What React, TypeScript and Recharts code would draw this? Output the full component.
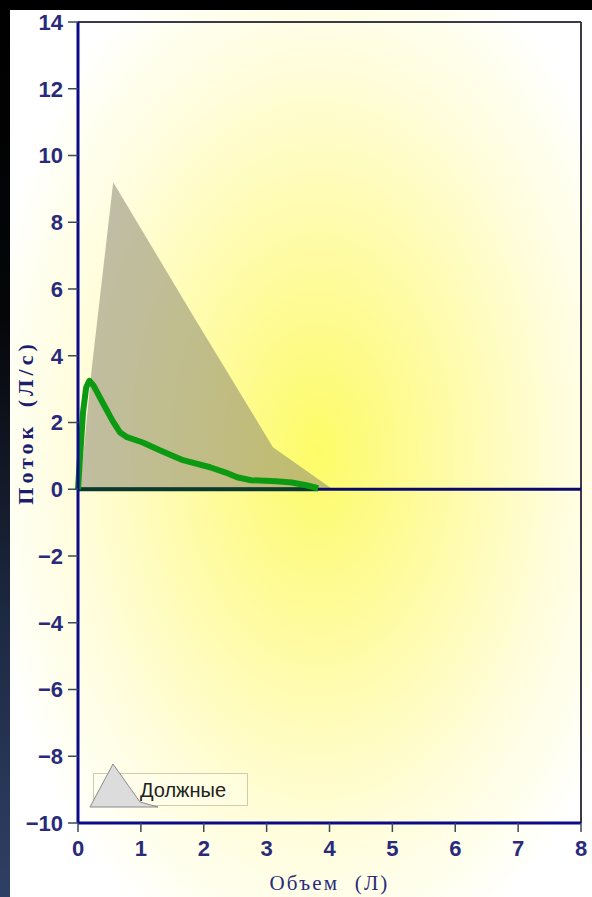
import React from "react";
import { ComposedChart, Area, Line, XAxis, YAxis, ReferenceLine } from "recharts";

// Predicted (Должные) curve
const predVol = [0.03, 0.22, 0.56, 1.83, 3.1, 4.05];
const predFlow = [0, 3.65, 9.2, 5.2, 1.26, 0];

// Measured expiratory curve
const actVol = [0, 0.03, 0.08, 0.13, 0.18, 0.25, 0.4, 0.55, 0.67, 0.78, 1.03, 1.3, 1.67, 2.1, 2.35, 2.53, 2.75, 3.15, 3.4, 3.63, 3.82];
const actFlow = [0, 0.9, 2.3, 3.05, 3.25, 3.1, 2.57, 2.05, 1.7, 1.56, 1.4, 1.17, 0.87, 0.66, 0.5, 0.36, 0.27, 0.24, 0.2, 0.12, 0.03];

// Return line along zero
const inspVol = [0, 3.82];
const inspFlow = [0, 0];

const xTicks = [0, 1, 2, 3, 4, 5, 6, 7, 8];
const yTicks = [-10, -8, -6, -4, -2, 0, 2, 4, 6, 8, 10, 12, 14];

const xLabel = "Объем (Л)";
const yLabel = "Поток (Л/с)";
const legendLabel = "Должные";

type Row = { vol: number; pred?: number; flow?: number; insp?: number };
const buildData = (): Row[] => {
  const map = new Map<number, Row>();
  const put = (v: number, key: "pred" | "flow" | "insp", val: number) => {
    const r = map.get(v) || { vol: v };
    r[key] = val;
    map.set(v, r);
  };
  predVol.forEach((v, i) => put(v, "pred", predFlow[i]));
  actVol.forEach((v, i) => put(v, "flow", actFlow[i]));
  inspVol.forEach((v, i) => put(v, "insp", inspFlow[i]));
  return Array.from(map.values()).sort((a, b) => a.vol - b.vol);
};
const data = buildData();

const tickFont = { fontFamily: "'Liberation Sans', Arial, sans-serif", fontSize: 22, fontWeight: 700, fill: "#2a2a7c" };

export default function App() {
  return (
    <div style={{ position: "absolute", left: 0, top: 0, width: 592, height: 897, overflow: "hidden",
      background: "radial-gradient(ellipse 340px 540px at 318px 450px, #fdfc66 0%, #fefb8c 22%, #fffcb6 48%, #fffddc 72%, #fffff4 92%, #ffffff 100%)" }}>
      <div style={{ position: "absolute", left: 0, top: 0, width: 592, height: 10, background: "#000" }} />
      <div style={{ position: "absolute", left: 0, top: 0, width: 10, height: 897, background: "linear-gradient(#000 0%, #050608 35%, #1e2a44 70%, #2e4064 100%)" }} />
      <div style={{ position: "absolute", left: 0, top: 0 }}>
        <ComposedChart width={592} height={897} data={data} margin={{ top: 22, right: 11, bottom: 0, left: 0 }}>
          <XAxis
            dataKey="vol"
            type="number"
            domain={[0, 8]}
            ticks={xTicks}
            height={74}
            axisLine={{ stroke: "#0a0a8a", strokeWidth: 3 }}
            tickLine={{ stroke: "#3a4a5a", strokeWidth: 1.5 }}
            tickSize={9}
            tickMargin={8}
            tick={tickFont}
            interval={0}
            label={{
              content: (p: any) => {
                const vb = p.viewBox || { x: 78, width: 503 };
                return (
                  <text x={vb.x + vb.width / 2} y={890} textAnchor="middle"
                    style={{ fontFamily: "'Liberation Serif', 'Times New Roman', serif", fontSize: 21, fill: "#2a2a7c", letterSpacing: 2.2, wordSpacing: 8 }}>
                    {xLabel}
                  </text>
                );
              },
            }}
          />
          <YAxis
            type="number"
            domain={[-10, 14]}
            ticks={yTicks}
            width={78}
            axisLine={{ stroke: "#0a0a8a", strokeWidth: 3 }}
            tickLine={{ stroke: "#3a4a5a", strokeWidth: 1.5 }}
            tickSize={10}
            tickMargin={5}
            tick={tickFont}
            interval={0}
            tickFormatter={(v: number) => (v < 0 ? "\u2212" + Math.abs(v) : String(v))}
            label={{
              content: (p: any) => {
                const vb = p.viewBox || { y: 22, height: 801 };
                const cy = vb.y + vb.height / 2;
                return (
                  <text x={33} y={cy} textAnchor="middle" transform={`rotate(-90, 33, ${cy})`}
                    style={{ fontFamily: "'Liberation Serif', 'Times New Roman', serif", fontSize: 22, fontWeight: 700, fill: "#1c1c70", letterSpacing: 4, wordSpacing: 6 }}>
                    {yLabel}
                  </text>
                );
              },
            }}
          />
          <ReferenceLine y={14} stroke="#3a3a4a" strokeWidth={2} ifOverflow="extendDomain" />
          <ReferenceLine x={8} stroke="#3a3a4a" strokeWidth={2} ifOverflow="extendDomain" />
          <Area
            dataKey="pred"
            type="linear"
            connectNulls
            baseValue={0}
            stroke="none"
            fill="#868270"
            fillOpacity={0.52}
            isAnimationActive={false}
            dot={false}
            activeDot={false}
          />
          <ReferenceLine y={0} stroke="#0a0a6a" strokeWidth={3} />
          <Line
            dataKey="insp"
            type="linear"
            connectNulls
            stroke="#0b3a2c"
            strokeWidth={4}
            dot={false}
            activeDot={false}
            isAnimationActive={false}
          />
          <Line
            dataKey="flow"
            type="linear"
            connectNulls
            stroke="#0c9a12"
            strokeWidth={6}
            strokeLinejoin="round"
            dot={false}
            activeDot={false}
            isAnimationActive={false}
          />
        </ComposedChart>
      </div>
      <div style={{ position: "absolute", left: 93, top: 773, width: 155, height: 33, boxSizing: "border-box",
        border: "1.5px solid #cfcca8", background: "rgba(255,255,240,0.35)" }} />
      <svg style={{ position: "absolute", left: 0, top: 0 }} width={592} height={897}>
        <polygon points="90,807 113,764 140,802 158,807" fill="#dcdcdc" stroke="#8a8a8a" strokeWidth={1} />
        <text x={140} y={797} style={{ fontFamily: "'Liberation Sans', Arial, sans-serif", fontSize: 20, fill: "#222" }}>
          {legendLabel}
        </text>
      </svg>
    </div>
  );
}
